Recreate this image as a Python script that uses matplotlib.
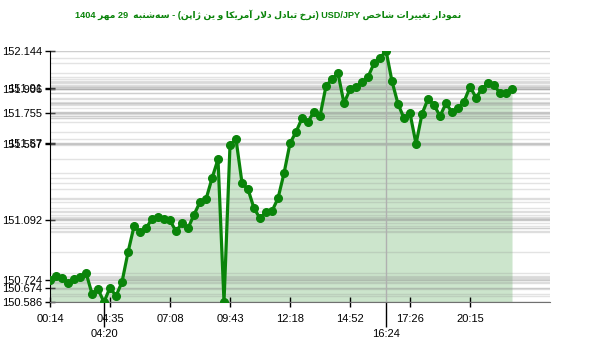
import re
import numpy as np
import matplotlib
matplotlib.use("Agg")
import matplotlib.pyplot as plt

# data, one value per point, equally spaced
values = [150.724, 150.747, 150.737, 150.706, 150.727, 150.741, 150.768, 150.637,
          150.665, 150.586, 150.675, 150.623, 150.710, 150.894, 151.055, 151.022,
          151.043, 151.102, 151.115, 151.101, 151.092, 151.024, 151.074, 151.043,
          151.127, 151.206, 151.223, 151.353, 151.471, 150.586, 151.559, 151.595,
          151.324, 151.285, 151.167, 151.105, 151.142, 151.150, 151.229, 151.384,
          151.570, 151.640, 151.725, 151.704, 151.766, 151.739, 151.925, 151.967,
          152.004, 151.818, 151.905, 151.917, 151.948, 151.981, 152.066, 152.097,
          152.144, 151.954, 151.814, 151.725, 151.755, 151.567, 151.752, 151.845,
          151.807, 151.739, 151.818, 151.762, 151.787, 151.828, 151.921, 151.853,
          151.907, 151.942, 151.931, 151.880, 151.880, 151.906]

ytick_vals = [152.144, 151.91, 151.906, 151.755, 151.57, 151.567,
              151.092, 150.724, 150.674, 150.586]
ytick_labels = ["152.144", "151.91", "151.906", "151.755", "151.57", "151.567",
                "151.092", "150.724", "150.674", "150.586"]

xtick_pos = [0, 10, 20, 30, 40, 50, 60, 70]
xtick_labels = ["00:14", "04:35", "07:08", "09:43", "12:18", "14:52", "17:26", "20:15"]
xmark_pos = [9, 56]  # low and high of the day
xmark_labels = ["04:20", "16:24"]

title = "نمودار تغییرات شاخص USD/JPY (نرخ تبادل دلار آمریکا و ین ژاپن) - سه\u200cشنبه  29 مهر 1404"

# presentation forms: isolated, final, initial, medial
FORMS = {
    "ا": "\uFE8D\uFE8E", "آ": "\uFE81\uFE82", "د": "\uFEA9\uFEAA", "ر": "\uFEAD\uFEAE",
    "ژ": "\uFB8A\uFB8B", "و": "\uFEED\uFEEE",
    "ب": "\uFE8F\uFE90\uFE91\uFE92", "پ": "\uFB56\uFB57\uFB58\uFB59",
    "ت": "\uFE95\uFE96\uFE97\uFE98", "خ": "\uFEA5\uFEA6\uFEA7\uFEA8",
    "س": "\uFEB1\uFEB2\uFEB3\uFEB4", "ش": "\uFEB5\uFEB6\uFEB7\uFEB8",
    "ص": "\uFEB9\uFEBA\uFEBB\uFEBC", "غ": "\uFECD\uFECE\uFECF\uFED0",
    "ک": "\uFB8E\uFB8F\uFB90\uFB91", "ل": "\uFEDD\uFEDE\uFEDF\uFEE0",
    "م": "\uFEE1\uFEE2\uFEE3\uFEE4", "ن": "\uFEE5\uFEE6\uFEE7\uFEE8",
    "ه": "\uFEE9\uFEEA\uFEEB\uFEEC", "ی": "\uFBFC\uFBFD\uFBFE\uFBFF",
}
LAMALEF = {"ا": "\uFEFB\uFEFC", "آ": "\uFEF5\uFEF6"}


def fa(s):
    out = []
    i = 0
    while i < len(s):
        c = s[i]
        if c not in FORMS:
            out.append(c)
            i += 1
            continue
        prev = s[i - 1] if i > 0 else ""
        nxt = s[i + 1] if i + 1 < len(s) else ""
        jp = prev in FORMS and len(FORMS[prev]) == 4
        if c == "ل" and nxt in LAMALEF:
            out.append(LAMALEF[nxt][1 if jp else 0])
            i += 2
            continue
        f = FORMS[c]
        jn = len(f) == 4 and nxt in FORMS
        if jp and jn:
            out.append(f[3])
        elif jp:
            out.append(f[1])
        elif jn:
            out.append(f[2])
        else:
            out.append(f[0])
        i += 1
    shaped = "".join(out).replace("\u200c", "")
    runs = re.findall(r"[A-Za-z0-9]+(?:[/.][A-Za-z0-9]+)*|.", shaped)
    mirror = {"(": ")", ")": "("}
    return "".join(mirror.get(r, r) for r in reversed(runs))


plt.rcParams["font.family"] = ["Liberation Sans", "DejaVu Sans"]

x = np.arange(len(values))
ymin, ymax = min(values), max(values)

fig = plt.figure(figsize=(6, 3.52), dpi=100)
ax = fig.add_axes([50 / 600, 1 - 302 / 352, 500 / 600, 251.3 / 352])

ax.fill_between(x, values, ymin, color="#008000", alpha=0.2, lw=0, zorder=1)
ax.hlines(values + ytick_vals, 0, 83.33, color="#909090", alpha=0.25, lw=1, zorder=2)
ax.vlines(xmark_pos, ymin, [values[i] for i in xmark_pos], color="#b0b0b0", lw=1, zorder=2)
ax.plot(x, values, color="#0a840a", lw=2.3, marker="o", ms=5.5, zorder=3)

ax.set_xlim(0, 83.33)
ax.set_ylim(ymin, ymax)

ax.set_yticks(ytick_vals)
ax.set_yticklabels(ytick_labels, fontsize=8)
ax.tick_params(axis="y", direction="inout", length=7, width=1, pad=2)

ax.set_xticks(xtick_pos)
ax.set_xticklabels(xtick_labels, fontsize=8)
ax.set_xticks(xmark_pos, minor=True)
ax.set_xticklabels(xmark_labels, minor=True, fontsize=8)
ax.tick_params(axis="x", which="major", direction="inout", length=7, width=1, pad=5)
ax.tick_params(axis="x", which="minor", direction="out", length=18, width=1, pad=1.5)

for s in ["top", "right"]:
    ax.spines[s].set_visible(False)
ax.spines["bottom"].set_color("#707070")
ax.spines["left"].set_color("black")

fig.text(268 / 600, 1 - 15 / 352, fa(title), color="#0a840a", fontsize=6.6,
         fontweight="bold", ha="center", va="center",
         family=["Liberation Sans", "DejaVu Sans"])

fig.savefig("out.png", dpi=100)
